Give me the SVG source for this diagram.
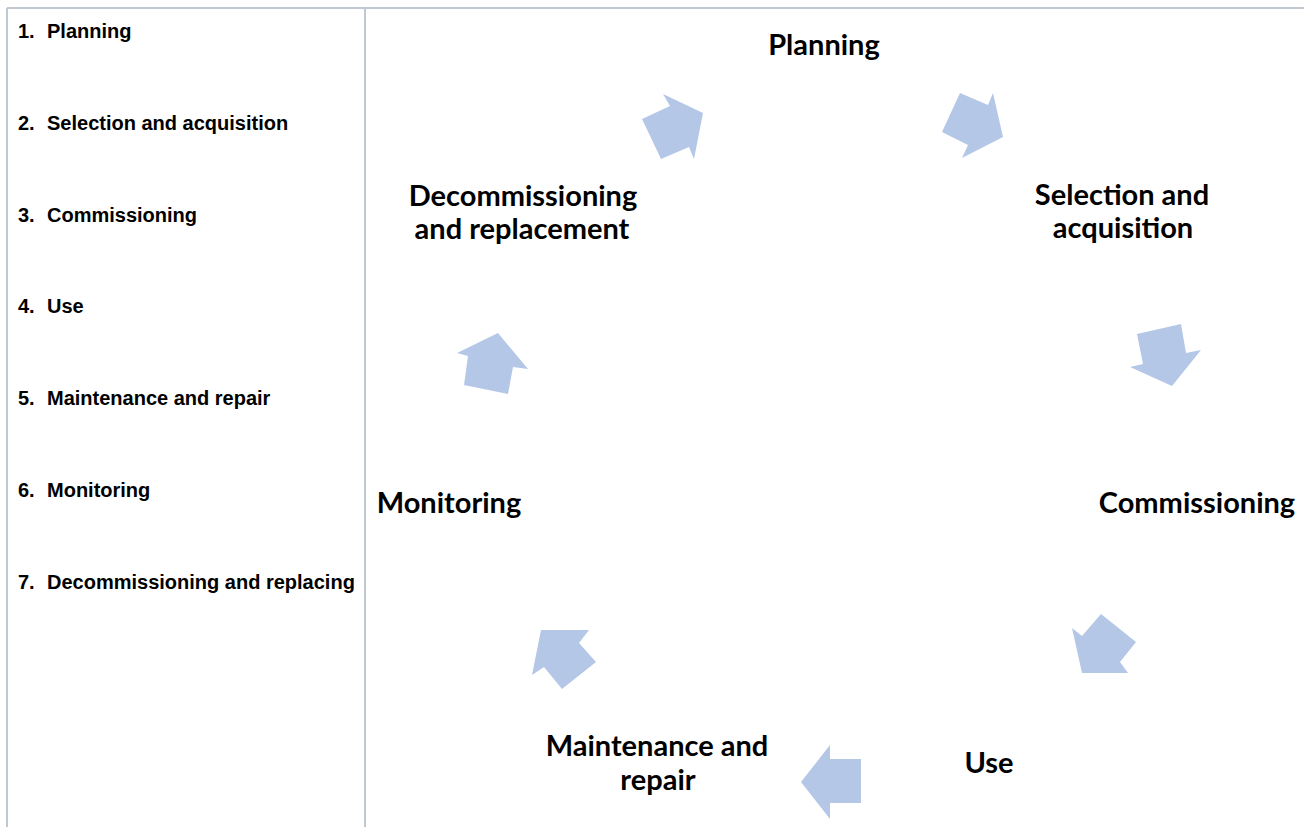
<svg xmlns="http://www.w3.org/2000/svg" width="1304" height="827" viewBox="0 0 1304 827">
<style>
.rule{stroke:#c1c7d0;stroke-width:2;fill:none}
.item{font-family:"Liberation Sans",Arial,sans-serif;font-weight:bold;font-size:20px;fill:#000}
.lbl{font-family:Lato,"Open Sans",sans-serif;font-weight:bold;font-size:29px;fill:#000;text-anchor:middle}
.arr{fill:#b4c7e7}
</style>
<rect width="1304" height="827" fill="#fff"/>
<g id="table">
<line class="rule" x1="7" y1="8" x2="1304" y2="8"/>
<line class="rule" x1="7" y1="8" x2="7" y2="827"/>
<line class="rule" x1="365" y1="8" x2="365" y2="827"/>
</g>
<g id="list">
<text class="item" x="18" y="38">1.</text><text class="item" x="47" y="38">Planning</text>
<text class="item" x="18" y="130">2.</text><text class="item" x="47" y="130">Selection and acquisition</text>
<text class="item" x="18" y="222">3.</text><text class="item" x="47" y="222">Commissioning</text>
<text class="item" x="18" y="313">4.</text><text class="item" x="47" y="313">Use</text>
<text class="item" x="18" y="405">5.</text><text class="item" x="47" y="405">Maintenance and repair</text>
<text class="item" x="18" y="497">6.</text><text class="item" x="47" y="497">Monitoring</text>
<text class="item" x="18" y="589">7.</text><text class="item" x="47" y="589">Decommissioning and replacing</text>
</g>
<g id="n-planning"><text class="lbl" x="824" y="55">Planning</text></g>
<g id="n-selection"><text class="lbl" x="1122" y="205">Selection and</text><text class="lbl" x="1123" y="238">acquisition</text></g>
<g id="n-commissioning"><text class="lbl" x="1197" y="513">Commissioning</text></g>
<g id="n-use"><text class="lbl" x="989" y="773">Use</text></g>
<g id="n-maintenance"><text class="lbl" x="657" y="756">Maintenance and</text><text class="lbl" x="658" y="790">repair</text></g>
<g id="n-monitoring"><text class="lbl" x="449" y="513">Monitoring</text></g>
<g id="n-decommissioning"><text class="lbl" x="523" y="206">Decommissioning</text><text class="lbl" x="522" y="239">and replacement</text></g>
<g id="connectors">
<polygon class="arr" points="661,159 642,119 670,106 663,94 703,113 694,159 689,147"/>
<polygon class="arr" points="942,132 960,93 988,105 993,93 1003,137 962,158 968,145"/>
<polygon class="arr" points="1137,334 1181,324 1186,353 1201,350 1172,386 1130,367 1143,364"/>
<polygon class="arr" points="1101,614 1136,642 1120,662 1128,673 1082,673 1072,628 1082,636"/>
<polygon class="arr" points="861,759 861,803 830,803 830,819 801,782 830,745 830,759"/>
<polygon class="arr" points="541,630 589,630 579,643 596,662 562,689 544,667 532,675"/>
<polygon class="arr" points="498,333 528,369 513,367 508,394 464,385 468,356 457,353"/>
</g>
</svg>
